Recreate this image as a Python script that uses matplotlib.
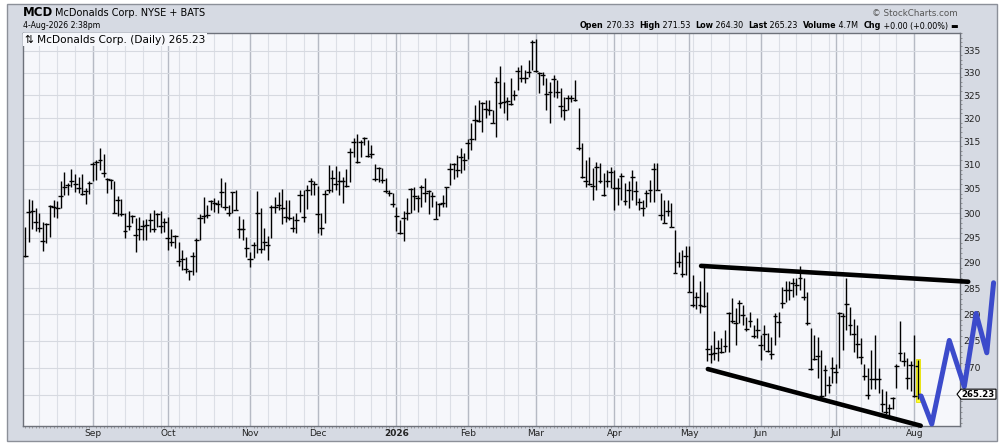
import matplotlib
matplotlib.use("Agg")
import matplotlib.pyplot as plt
from matplotlib.patches import Rectangle, Polygon
from matplotlib.ticker import FixedLocator, NullFormatter
import pandas as pd

W, H = 1002, 445

# trading calendar of the chart (Aug 5 2025 .. Aug 4 2026)
HOLIDAYS = ["2025-09-01", "2025-11-27", "2025-12-25", "2026-01-01", "2026-01-19",
            "2026-02-16", "2026-04-03", "2026-05-25", "2026-06-19", "2026-07-03"]
dates = pd.bdate_range("2025-08-05", "2026-08-04", freq="C", holidays=HOLIDAYS)

HIGHS = [
    297.2, 302.9, 302.7, 301.0, 299.9, 298.2, 297.9, 301.6, 302.7, 302.5,
    306.5, 308.4, 306.1, 309.1, 308.0, 307.5, 308.0, 305.1, 306.5, 310.6,
    311.0, 313.5, 312.3, 307.2, 307.0, 306.5, 303.4, 302.9, 299.9, 300.4,
    299.6, 299.0, 299.1, 298.6, 298.8, 299.9, 300.6, 300.1, 300.4, 298.9,
    299.1, 296.8, 295.5, 294.2, 292.6, 291.2, 288.6, 292.2, 294.9, 299.7,
    303.2, 301.6, 302.7, 303.0, 302.7, 307.3, 306.3, 301.6, 304.4, 304.7,
    299.3, 298.8, 295.2, 292.2, 294.2, 304.5, 301.0, 296.9, 295.3, 301.6,
    303.2, 304.4, 304.9, 302.7, 302.7, 299.4, 299.9, 304.7, 304.7, 305.8,
    307.3, 306.5, 305.6, 299.9, 304.7, 310.0, 308.9, 309.7, 308.7, 307.5,
    309.1, 313.5, 315.6, 316.5, 315.3, 316.0, 315.3, 314.2, 310.1, 309.6,
    309.4, 307.2, 304.7, 304.2, 301.3, 298.6, 300.5, 303.0, 305.1, 305.4,
    303.7, 305.8, 307.2, 304.7, 304.4, 302.5, 302.0, 303.7, 305.4, 310.3,
    310.4, 312.1, 313.5, 312.4, 315.4, 318.9, 322.9, 324.0, 323.6, 324.0,
    324.0, 321.8, 329.1, 331.5, 328.0, 324.7, 328.8, 326.2, 331.4, 331.8,
    330.6, 332.9, 337.5, 337.7, 330.2, 330.2, 328.8, 328.0, 329.5, 328.4,
    326.6, 324.7, 325.1, 325.1, 328.3, 322.2, 314.6, 311.0, 311.7, 309.3,
    310.6, 310.3, 308.2, 308.9, 309.6, 308.9, 307.2, 308.2, 306.1, 306.5,
    308.9, 306.5, 303.0, 302.7, 304.7, 306.8, 310.3, 310.3, 304.1, 302.7,
    302.7, 302.0, 296.6, 292.2, 292.6, 293.4, 293.3, 287.7, 284.4, 286.4,
    289.6, 284.4, 274.3, 276.8, 275.2, 275.5, 277.1, 280.5, 283.1, 281.2,
    282.8, 281.8, 279.6, 280.5, 278.0, 279.3, 276.1, 278.0, 276.4, 275.8,
    280.2, 280.5, 285.3, 286.4, 286.4, 287.0, 287.0, 289.3, 287.0, 284.4,
    277.4, 276.1, 275.8, 273.4, 270.6, 268.5, 272.1, 270.8, 280.5, 280.2,
    287.0, 281.5, 279.1, 278.0, 275.5, 270.8, 270.0, 273.4, 276.1, 270.0,
    266.1, 265.8, 263.4, 264.8, 270.8, 278.8, 273.0, 271.8, 271.2, 276.1,
    271.53,
]
LOWS = [
    291.2, 294.2, 296.8, 296.4, 296.2, 292.4, 294.0, 295.2, 299.1, 299.0,
    301.0, 303.7, 303.6, 305.4, 304.4, 304.1, 303.7, 301.8, 303.8, 306.5,
    306.9, 308.9, 307.5, 304.1, 304.9, 299.9, 299.4, 299.4, 294.9, 296.6,
    297.9, 292.2, 294.6, 294.5, 294.5, 296.2, 296.2, 297.2, 296.0, 296.2,
    292.6, 293.3, 293.0, 289.3, 288.6, 288.0, 286.7, 287.7, 288.3, 294.5,
    297.9, 298.9, 300.6, 300.3, 299.9, 301.3, 300.6, 299.3, 299.9, 300.6,
    294.9, 294.5, 291.2, 289.1, 290.9, 291.9, 291.9, 292.6, 290.6, 295.0,
    299.9, 300.6, 297.7, 298.2, 298.6, 296.2, 296.0, 300.3, 298.2, 300.8,
    303.7, 303.7, 295.9, 295.5, 297.9, 304.1, 304.4, 304.7, 303.7, 302.0,
    305.3, 306.3, 311.7, 310.3, 311.7, 314.2, 311.7, 311.4, 306.5, 306.3,
    306.1, 304.2, 303.4, 301.3, 296.4, 295.7, 294.4, 298.6, 299.9, 300.6,
    300.3, 301.3, 302.3, 299.8, 301.2, 298.7, 299.3, 301.3, 301.3, 305.8,
    307.0, 307.5, 308.2, 308.9, 311.3, 313.2, 315.3, 319.2, 316.9, 320.0,
    320.7, 318.9, 316.0, 322.2, 321.0, 319.6, 322.9, 324.0, 326.2, 328.0,
    327.7, 329.1, 330.6, 330.2, 325.5, 327.3, 321.8, 319.0, 324.7, 324.3,
    320.2, 319.6, 321.8, 323.6, 323.8, 313.2, 307.2, 305.4, 305.8, 302.7,
    304.7, 306.1, 303.4, 305.4, 305.1, 300.6, 301.6, 302.7, 301.6, 301.0,
    302.7, 301.6, 300.6, 299.3, 301.3, 302.3, 302.3, 304.7, 298.6, 297.9,
    299.3, 297.1, 288.0, 289.1, 287.2, 287.7, 284.4, 281.5, 281.0, 280.2,
    281.5, 271.2, 270.9, 271.5, 271.2, 272.8, 273.0, 273.0, 278.3, 274.3,
    278.3, 278.0, 276.8, 277.7, 275.5, 275.5, 271.5, 273.3, 273.0, 271.6,
    274.3, 275.8, 281.2, 282.4, 282.8, 283.4, 283.7, 284.7, 282.8, 278.0,
    269.6, 271.5, 268.1, 264.6, 264.9, 265.4, 267.2, 267.2, 270.0, 273.4,
    277.1, 276.1, 272.9, 271.8, 270.8, 267.8, 264.4, 266.1, 266.1, 265.4,
    262.0, 261.7, 261.4, 262.5, 266.3, 271.2, 270.3, 266.1, 265.8, 264.8,
    264.30,
]
CLOSES = [
    291.4, 300.3, 300.4, 298.1, 296.9, 294.3, 297.7, 301.4, 301.3, 301.1,
    303.4, 305.4, 305.8, 306.5, 306.0, 305.2, 303.9, 304.6, 306.1, 310.1,
    310.5, 311.0, 308.3, 307.0, 306.8, 300.1, 302.7, 299.7, 296.4, 297.4,
    299.3, 295.5, 296.8, 297.4, 297.6, 298.6, 296.7, 299.7, 297.4, 298.2,
    294.9, 294.2, 295.3, 290.4, 290.7, 288.8, 288.4, 291.4, 294.5, 298.9,
    299.4, 299.5, 302.5, 302.0, 301.8, 304.4, 301.2, 300.1, 304.3, 300.6,
    296.8, 296.8, 293.0, 290.7, 293.6, 299.9, 292.7, 294.1, 293.6, 301.2,
    301.2, 301.6, 301.1, 299.1, 298.9, 297.0, 298.6, 303.6, 299.1, 304.7,
    306.6, 306.0, 299.7, 296.9, 303.8, 304.7, 307.2, 306.0, 306.7, 306.7,
    305.6, 312.7, 314.8, 310.5, 314.8, 315.6, 311.9, 312.2, 307.0, 309.4,
    306.8, 304.6, 304.1, 301.8, 299.4, 295.9, 298.9, 300.1, 304.9, 303.5,
    303.0, 305.4, 304.2, 304.6, 303.4, 298.7, 301.8, 302.1, 305.4, 309.1,
    310.1, 308.9, 311.6, 311.0, 314.6, 315.5, 319.6, 319.4, 323.3, 322.0,
    321.8, 319.0, 327.9, 323.4, 323.6, 323.8, 323.1, 325.1, 330.4, 328.8,
    328.8, 330.2, 337.0, 330.5, 329.9, 329.5, 325.3, 325.8, 328.6, 325.7,
    322.7, 321.8, 324.3, 324.3, 324.0, 313.5, 307.4, 306.5, 306.0, 305.6,
    309.6, 306.5, 303.6, 306.5, 308.5, 305.1, 305.1, 307.7, 302.5, 304.7,
    307.5, 304.6, 302.3, 301.0, 304.2, 304.7, 309.1, 304.7, 299.6, 298.0,
    300.4, 297.1, 288.1, 290.1, 287.9, 291.4, 284.4, 281.8, 283.3, 281.8,
    281.6, 273.5, 272.5, 272.8, 273.6, 273.0, 274.1, 280.3, 278.8, 278.3,
    282.1, 279.9, 277.3, 278.8, 276.0, 277.1, 274.3, 276.3, 273.2, 272.6,
    279.8, 278.6, 282.1, 284.7, 284.7, 286.0, 285.7, 287.0, 283.4, 278.3,
    269.8, 271.6, 272.2, 264.9, 269.7, 266.9, 270.0, 269.2, 280.3, 279.8,
    282.0, 278.0, 276.3, 274.5, 272.1, 268.6, 265.1, 267.9, 267.9, 267.9,
    263.4, 262.0, 262.7, 264.5, 270.3, 272.7, 271.2, 268.2, 270.6, 264.9,
    265.23,
]
OPENS = [
    291.4, 300.3, 300.4, 298.1, 296.9, 294.3, 297.7, 301.4, 301.3, 301.1,
    303.4, 305.4, 305.8, 306.5, 306.0, 305.2, 303.9, 304.6, 306.1, 310.1,
    310.5, 311.0, 308.3, 307.0, 306.8, 300.1, 302.7, 299.7, 296.4, 297.4,
    299.3, 295.5, 296.8, 297.4, 297.6, 298.6, 296.7, 299.7, 297.4, 298.2,
    294.9, 294.2, 295.3, 290.4, 290.7, 288.8, 288.4, 291.4, 294.5, 298.9,
    299.4, 299.5, 302.5, 302.0, 301.8, 304.4, 301.2, 300.1, 304.3, 300.6,
    296.8, 296.8, 293.0, 290.7, 293.6, 299.9, 292.7, 294.1, 293.6, 301.2,
    301.2, 301.6, 301.1, 299.1, 298.9, 297.0, 298.6, 303.6, 299.1, 304.7,
    306.6, 306.0, 299.7, 296.9, 303.8, 304.7, 307.2, 306.0, 306.7, 306.7,
    305.6, 312.7, 314.8, 310.5, 314.8, 315.6, 311.9, 312.2, 307.0, 309.4,
    306.8, 304.6, 304.1, 301.8, 299.4, 295.9, 298.9, 300.1, 304.9, 303.5,
    303.0, 305.4, 304.2, 304.6, 303.4, 298.7, 301.8, 302.1, 305.4, 309.1,
    310.1, 308.9, 311.6, 311.0, 314.6, 315.5, 319.6, 319.4, 323.3, 322.0,
    321.8, 319.0, 327.9, 323.4, 323.6, 323.8, 323.1, 325.1, 330.4, 328.8,
    328.8, 330.2, 337.0, 330.5, 329.9, 329.5, 325.3, 325.8, 328.6, 325.7,
    322.7, 321.8, 324.3, 324.3, 324.0, 313.5, 307.4, 306.5, 306.0, 305.6,
    309.6, 306.5, 303.6, 306.5, 308.5, 305.1, 305.1, 307.7, 302.5, 304.7,
    307.5, 304.6, 302.3, 301.0, 304.2, 304.7, 309.1, 304.7, 299.6, 298.0,
    300.4, 297.1, 288.1, 290.1, 287.9, 291.4, 284.4, 281.8, 283.3, 281.8,
    281.6, 273.5, 272.5, 272.8, 273.6, 273.0, 274.1, 280.3, 278.8, 278.3,
    282.1, 279.9, 277.3, 278.8, 276.0, 277.1, 274.3, 276.3, 273.2, 272.6,
    279.8, 278.6, 282.1, 284.7, 284.7, 286.0, 285.7, 287.0, 283.4, 278.3,
    269.8, 271.6, 272.2, 264.9, 269.7, 266.9, 270.0, 269.2, 280.3, 279.8,
    282.0, 278.0, 276.3, 274.5, 272.1, 268.6, 265.1, 267.9, 267.9, 267.9,
    263.4, 262.0, 262.7, 264.5, 270.3, 272.7, 271.2, 268.2, 270.6, 264.9,
    270.33,
]
VOLUME_TEXT = "4.7M"

MONTH_LABELS = ["Sep", "Oct", "Nov", "Dec", "2026", "Feb", "Mar", "Apr",
                "May", "Jun", "Jul", "Aug"]
PRICE_LEVELS = [270, 275, 280, 285, 290, 295, 300, 305, 310, 315, 320, 325, 330, 335]

# drawn annotations (bar index, price)
UPPER_LINE_X = [189.3, 264.1]
UPPER_LINE_Y = [289.4, 286.3]
LOWER_LINE_X = [191.2, 250.8]
LOWER_LINE_Y = [269.8, 259.6]
BLUE_X = [250.9, 253.9, 258.8, 263.0, 266.3, 269.3, 271.2]
BLUE_Y = [264.9, 259.9, 275.1, 266.6, 280.2, 272.8, 286.1]


def fx(x):
    return x / W


def fy(y):
    return 1 - y / H


fig = plt.figure(figsize=(W / 100, H / 100), dpi=100)
fig.patch.set_facecolor("white")
fig.add_artist(Rectangle((fx(7), fy(441)), (997 - 7) / W, (441 - 4) / H,
                         transform=fig.transFigure, facecolor="#d6dae3",
                         edgecolor="#8c9099", lw=1, zorder=-10))

ax = fig.add_axes([fx(23), fy(426), (960 - 23) / W, (426 - 33) / H])
ax.set_facecolor("#f6f7fb")
ax.set_yscale("log")
ax.set_xlim(-0.56, 261.8)
ax.set_ylim(259.55, 339.06)

n = len(CLOSES)
idx = list(range(n))
month_starts = [i for i in range(1, n) if dates[i].month != dates[i - 1].month]
week_starts = [i for i in range(1, n)
               if dates[i].isocalendar()[1] != dates[i - 1].isocalendar()[1]]

# grid
for i in week_starts:
    ax.axvline(i, color="#dcdfe6", lw=0.8, zorder=0)
for i in month_starts:
    ax.axvline(i, color="#b6bac4", lw=1.0, zorder=0)
for p in range(265, 340, 5):
    ax.axhline(p, color="#d6d9e0", lw=0.8, zorder=0)

# OHLC bars
ax.vlines(idx, LOWS, HIGHS, color="black", lw=1.0, zorder=3)
ax.hlines(OPENS, [i - 0.7 for i in idx], idx, color="black", lw=1.0, zorder=3)
ax.hlines(CLOSES, idx, [i + 0.7 for i in idx], color="black", lw=1.0, zorder=3)

# highlight on the last bar
ax.add_patch(Rectangle((n - 1 - 0.6, LOWS[-1] - 0.4), 1.2, HIGHS[-1] - LOWS[-1] + 0.5,
                       facecolor="#ffff33", edgecolor="#e6e000", lw=0.6, zorder=2))

# trend lines and hand-drawn projection
ax.plot(UPPER_LINE_X, UPPER_LINE_Y, color="black", lw=3.3,
        solid_capstyle="round", clip_on=False, zorder=5)
ax.plot(LOWER_LINE_X, LOWER_LINE_Y, color="black", lw=3.3,
        solid_capstyle="round", clip_on=False, zorder=5)
ax.plot(BLUE_X, BLUE_Y, color="#3c4bcb", lw=3.6, solid_joinstyle="round",
        solid_capstyle="round", clip_on=False, zorder=8)

# axes styling
for s in ax.spines.values():
    s.set_color("#6d717a")
    s.set_linewidth(1.0)
ax.yaxis.tick_right()
ax.yaxis.set_major_locator(FixedLocator(PRICE_LEVELS))
ax.yaxis.set_major_formatter(plt.FixedFormatter([str(p) for p in PRICE_LEVELS]))
ax.yaxis.set_minor_locator(FixedLocator(list(range(260, 340))))
ax.yaxis.set_minor_formatter(NullFormatter())
ax.tick_params(axis="y", which="major", length=0, pad=2.2, labelsize=6.6,
               labelcolor="#222222")
ax.tick_params(axis="y", which="minor", length=1.5, width=0.5, color="#777777")

ax.set_xticks(month_starts)
ax.set_xticklabels(MONTH_LABELS)
ax.set_xticks(idx, minor=True)
ax.tick_params(axis="x", which="major", length=0, pad=2.0, labelsize=6.5,
               labelcolor="#222222")
ax.tick_params(axis="x", which="minor", length=1.5, width=0.5, color="#888888")
for lab in ax.get_xticklabels():
    if lab.get_text() == "2026":
        lab.set_fontweight("bold")

# header
fig.text(fx(23), fy(12.5), "MCD", fontsize=8.5, fontweight="bold", va="center")
fig.text(fx(55), fy(13), "McDonalds Corp. NYSE + BATS", fontsize=7.0, va="center")
fig.text(fx(23), fy(25.5), "4-Aug-2026 2:38pm", fontsize=5.6, va="center")
fig.text(fx(958), fy(13), "\u00a9 StockCharts.com", fontsize=6.3, va="center",
         ha="right", color="#555555")

renderer = fig.canvas.get_renderer()
pieces = [("Open", "bold"), (f" {OPENS[-1]:.2f}  ", "normal"),
          ("High", "bold"), (f" {HIGHS[-1]:.2f}  ", "normal"),
          ("Low", "bold"), (f" {LOWS[-1]:.2f}  ", "normal"),
          ("Last", "bold"), (f" {CLOSES[-1]:.2f}  ", "normal"),
          ("Volume", "bold"), (f" {VOLUME_TEXT}  ", "normal"),
          ("Chg", "bold"), (" +0.00 (+0.00%) ", "normal"), ("\u25ac", "bold")]
xpos = fx(958)
for s, w in reversed(pieces):
    t = fig.text(xpos, fy(26), s, fontsize=5.8, fontweight=w, va="center", ha="right")
    xpos -= t.get_window_extent(renderer).width / W

# legend
fig.text(fx(25), fy(39.5), f"\u21c5 McDonalds Corp. (Daily) {CLOSES[-1]:.2f}",
         fontsize=7.6, va="center", ha="left",
         bbox=dict(facecolor="#f6f7fb", edgecolor="none", pad=1.2), zorder=4)

# last price tag
yl = fig.transFigure.inverted().transform(ax.transData.transform((0, CLOSES[-1])))[1]
hh = 5 / H
tag = Polygon([(fx(957), yl), (fx(961), yl + hh), (fx(996), yl + hh),
               (fx(996), yl - hh), (fx(961), yl - hh)], closed=True,
              transform=fig.transFigure, facecolor="white", edgecolor="black",
              lw=0.8, zorder=6)
fig.add_artist(tag)
fig.text(fx(978.5), yl, f"{CLOSES[-1]:.2f}", fontsize=6.2, fontweight="bold",
         va="center", ha="center", zorder=7)

fig.savefig("out.png", dpi=100)
